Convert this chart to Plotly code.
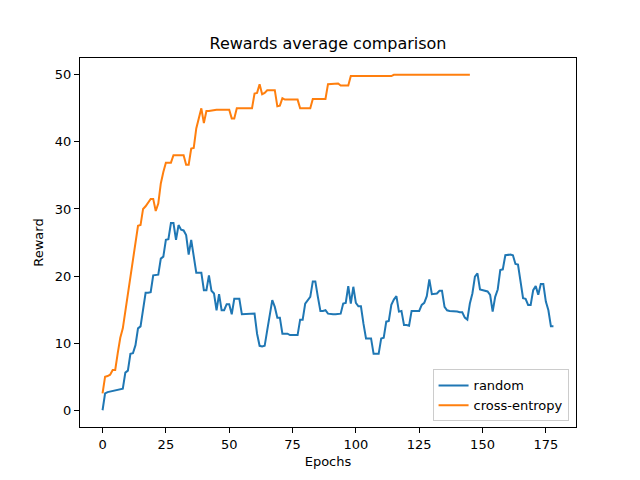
import plotly.graph_objects as go

# rewards per epoch
random_rewards = [
    0.0, 2.5, 2.7, 2.8, 2.9, 3.0, 3.1, 3.1, 3.2, 5.6,
    5.9, 8.4, 8.5, 9.7, 12.2, 12.5, 14.9, 17.5, 17.5, 17.6,
    20.1, 20.1, 20.2, 22.6, 22.9, 25.4, 25.5, 27.9, 27.9, 25.4,
    27.6, 26.9, 26.8, 26.1, 23.2, 25.4, 22.9, 20.5, 20.5, 20.5,
    17.9, 17.9, 20.1, 17.8, 17.4, 14.9, 17.3, 14.9, 14.9, 15.8,
    15.8, 14.3, 16.6, 16.6, 16.6, 14.3, 14.3, 14.3, 14.3, 14.4,
    14.4, 11.4, 9.6, 9.5, 9.6, 11.9, 13.9, 16.4, 15.4, 13.8,
    13.8, 11.4, 11.4, 11.4, 11.2, 11.2, 11.2, 11.2, 13.5, 13.5,
    15.9, 16.5, 16.9, 19.2, 19.2, 16.9, 14.8, 14.8, 14.9, 14.4,
    14.3, 14.3, 14.3, 14.3, 14.4, 15.9, 16.0, 18.5, 15.9, 18.4,
    16.0, 15.5, 15.5, 12.9, 10.7, 10.7, 10.7, 8.4, 8.4, 8.4,
    10.7, 10.8, 13.2, 13.3, 15.7, 16.5, 17.0, 14.7, 14.8, 12.7,
    12.7, 12.6, 14.8, 14.8, 14.8, 14.8, 15.7, 16.0, 17.0, 19.5,
    17.3, 17.3, 17.4, 17.8, 17.8, 15.4, 14.9, 14.8, 14.8, 14.7,
    14.7, 14.6, 14.6, 13.8, 13.5, 15.9, 17.4, 19.9, 20.4, 18.0,
    17.9, 17.8, 17.7, 17.2, 14.7, 16.9, 18.0, 20.9, 21.0, 23.1,
    23.2, 23.2, 23.1, 21.8, 21.7, 19.2, 16.7, 16.6, 15.7, 15.7,
    17.9, 18.5, 17.2, 18.8, 18.8, 16.2, 14.9, 12.5, 12.5,
]

ce_rewards = [
    2.5, 5.0, 5.1, 5.3, 6.0, 6.0, 8.5, 10.8, 12.2, 14.8,
    17.4, 20.0, 22.6, 25.2, 27.5, 27.6, 30.0, 30.4, 31.0, 31.5,
    31.5, 29.7, 30.8, 33.8, 35.5, 36.9, 36.9, 36.9, 38.0, 38.0,
    38.0, 38.0, 38.0, 36.6, 36.6, 39.0, 39.1, 42.0, 43.5, 45.0,
    42.8, 44.6, 44.6, 44.7, 44.8, 44.8, 44.8, 44.8, 44.8, 44.8,
    44.8, 43.5, 43.5, 45.0, 45.0, 45.0, 45.0, 45.0, 45.0, 45.0,
    47.2, 47.3, 48.6, 47.1, 47.3, 47.7, 47.7, 47.7, 47.7, 45.3,
    45.4, 46.5, 46.3, 46.3, 46.3, 46.3, 46.3, 46.3, 45.0, 45.0,
    45.0, 45.0, 45.0, 46.4, 46.4, 46.4, 46.4, 46.4, 46.4, 48.6,
    48.6, 48.6, 48.7, 48.7, 48.4, 48.4, 48.4, 48.4, 49.8, 49.8,
    49.8, 49.8, 49.8, 49.8, 49.8, 49.8, 49.8, 49.8, 49.8, 49.8,
    49.8, 49.8, 49.8, 49.8, 49.8, 50.0, 50.0, 50.0, 50.0, 50.0,
    50.0, 50.0, 50.0, 50.0, 50.0, 50.0, 50.0, 50.0, 50.0, 50.0,
    50.0, 50.0, 50.0, 50.0, 50.0, 50.0, 50.0, 50.0, 50.0, 50.0,
    50.0, 50.0, 50.0, 50.0, 50.0, 50.0,
]

FONT = "DejaVu Sans"

fig = go.Figure()
fig.add_trace(go.Scatter(x=list(range(len(random_rewards))), y=random_rewards,
                         mode="lines", name="random",
                         line=dict(color="#1f77b4", width=2)))
fig.add_trace(go.Scatter(x=list(range(len(ce_rewards))), y=ce_rewards,
                         mode="lines", name="cross-entropy",
                         line=dict(color="#ff7f0e", width=2)))

axis = dict(showgrid=False, zeroline=False, showline=True, mirror=True,
            linecolor="black", linewidth=1, ticks="outside", ticklen=5,
            tickcolor="black", automargin=False,
            tickfont=dict(family=FONT, size=13, color="black"))

# page body adds 8px on top/left, so margins are shifted to compensate
fig.update_layout(
    width=640, height=480,
    paper_bgcolor="white", plot_bgcolor="white",
    margin=dict(l=72, r=72, t=50, b=61),
    font=dict(family=FONT, size=13, color="black"),
    title=dict(text="Rewards average comparison", x=0.5, xanchor="center",
               y=0.927, yanchor="middle", font=dict(family=FONT, size=16, color="black")),
    xaxis=dict(axis, range=[-8.9, 186.9], tickvals=[0, 25, 50, 75, 100, 125, 150, 175],
               title=dict(text="Epochs", font=dict(family=FONT, size=13), standoff=6)),
    yaxis=dict(axis, range=[-2.5, 52.5], tickvals=[0, 10, 20, 30, 40, 50],
               title=dict(text="Reward", font=dict(family=FONT, size=13), standoff=8)),
    legend=dict(x=0.985, y=0.015, xanchor="right", yanchor="bottom",
                bordercolor="#cccccc", borderwidth=1, bgcolor="rgba(255,255,255,0.8)",
                font=dict(family=FONT, size=13), tracegroupgap=2),
    showlegend=True,
)

fig.write_html("out.html")
